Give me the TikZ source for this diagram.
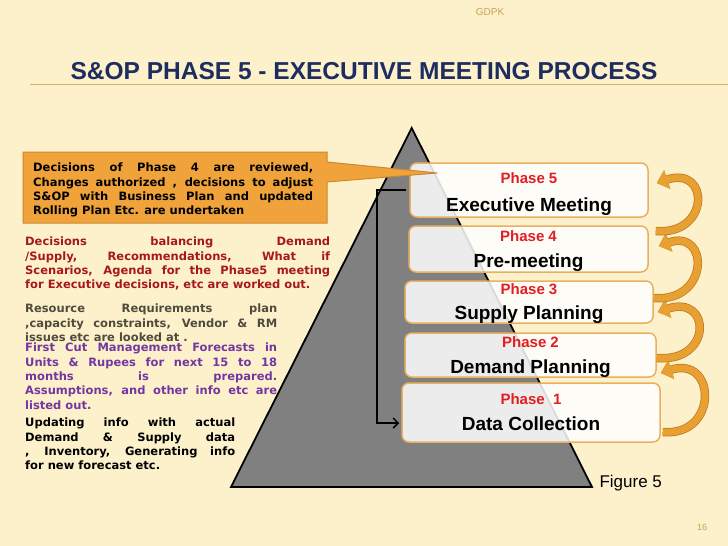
\documentclass[tikz,border=0pt]{standalone}
\usepackage{fontspec}
\setmainfont{Liberation Sans}
\newfontfamily\notefont{DejaVu Sans}
\usetikzlibrary{arrows.meta}
\tolerance=10000
\hyphenpenalty=10000

\definecolor{paper}{RGB}{253,241,204}
\definecolor{titleblue}{RGB}{30,45,95}
\definecolor{tan}{RGB}{200,160,80}
\definecolor{calloutfill}{RGB}{239,163,58}
\definecolor{calloutedge}{RGB}{205,135,45}
\definecolor{boxedge}{RGB}{232,176,96}
\definecolor{flow}{RGB}{232,160,50}
\definecolor{flowdark}{RGB}{190,122,30}
\definecolor{phasered}{RGB}{225,30,35}
\definecolor{notered}{RGB}{165,25,25}
\definecolor{notegray}{RGB}{80,75,60}
\definecolor{notepurple}{RGB}{115,55,160}
\definecolor{pyrgray}{RGB}{128,128,128}

\tikzset{
    phasebox/.style={draw=boxedge, line width=1.5pt, rounded corners=7pt,
        fill=white, fill opacity=0.85, text opacity=1, inner sep=0pt},
    phasetxt/.style={anchor=base, text=phasered, font=\fontsize{15}{18}\selectfont\bfseries},
    nametxt/.style={anchor=base, font=\fontsize{19}{22}\selectfont\bfseries},
    flowarrow/.style={draw=flow, line width=7pt, -{Triangle[length=11pt,width=19pt]},
        preaction={draw=flowdark, line width=8.5pt}},
    notetxt/.style={anchor=north west, inner sep=0pt, align=justify,
        font=\notefont\bfseries\fontsize{11.5}{14.3}\selectfont},
}

\begin{document}
\begin{tikzpicture}[x=1pt,y=-1pt]
    %% slide
    \fill[paper] (0,0) rectangle (728,546);
    \useasboundingbox (0,0) rectangle (728,546);
    \node[text=tan, font=\fontsize{10}{12}\selectfont] (gdpk) at (490,12) {GDPK};
    \node[text=titleblue, font=\fontsize{24.5}{28}\selectfont\bfseries] (title) at (364,71.5)
        {S\&OP PHASE 5 - EXECUTIVE MEETING PROCESS};
    \draw[tan!80, line width=0.8pt] (30,84) -- (728,84);
    %% pyramid
    \draw[fill=pyrgray, line width=1.8pt] (411.7,128) -- (592,487) -- (231,487) -- cycle;
    %% phases
    \node[phasebox, minimum width=238pt, minimum height=54pt] (p5) at (529,190) {};
    \node[phasebox, minimum width=239pt, minimum height=46pt] (p4) at (528.5,249) {};
    \node[phasebox, minimum width=248pt, minimum height=42pt] (p3) at (529,302) {};
    \node[phasebox, minimum width=251pt, minimum height=44pt] (p2) at (530.5,355) {};
    \node[phasebox, minimum width=258pt, minimum height=59pt] (p1) at (531,412.5) {};
    \node[phasetxt] (p5a) at ([yshift=7pt]p5.center) {Phase 5};
    \node[nametxt] (p5b) at ([yshift=-21pt]p5.center) {Executive Meeting};
    \node[phasetxt] (p4a) at ([yshift=8pt]p4.center) {Phase 4};
    \node[nametxt] (p4b) at ([yshift=-18pt]p4.center) {Pre-meeting};
    \node[phasetxt] (p3a) at ([yshift=8pt]p3.center) {Phase 3};
    \node[nametxt] (p3b) at ([yshift=-17pt]p3.center) {Supply Planning};
    \node[phasetxt] (p2a) at ([yshift=8pt]p2.center) {Phase 2};
    \node[nametxt] (p2b) at ([yshift=-18pt]p2.center) {Demand Planning};
    \node[phasetxt] (p1a) at ([yshift=8.5pt]p1.center) {Phase\ \ 1};
    \node[nametxt] (p1b) at ([yshift=-17.5pt]p1.center) {Data Collection};
    %% feedback from phase 5 down to phase 1
    \coordinate (brk) at (377,423);
    \draw[line width=1.5pt, -{Straight Barb[length=5pt,width=10pt]}]
        ([xshift=-3pt]p5.west) -| (brk) -- ([xshift=-2pt,yshift=-10.5pt]p1.west);
    %% arrows up the phases
    \draw[flowarrow] ([xshift=2pt,yshift=-19.5pt]p1.east) .. controls +(56,5) and +(56,-18) .. ([xshift=4pt,yshift=-18pt]p2.east);
    \draw[flowarrow] ([yshift=-3pt]p2.east) .. controls +(56,5) and +(54,-18) .. ([xshift=4pt,yshift=-10pt]p3.east);
    \draw[flowarrow] ([yshift=4pt]p3.east) .. controls +(56,5) and +(51,-18) .. ([xshift=10pt,yshift=3pt]p4.east);
    \draw[flowarrow] ([xshift=7pt,yshift=18pt]p4.east) .. controls +(54,5) and +(54,-18) .. ([xshift=8pt,yshift=7pt]p5.east);
    %% callout
    \draw[fill=calloutfill, draw=calloutedge, line width=1pt]
        (23,152) -- (327,152) -- (327,162) -- (437,173) -- (327,182) -- (327,223) -- (23,223) -- cycle;
    \node[notetxt, text width=280pt] (phase5note) at (33,163)
        {Decisions of Phase 4 are reviewed,\linebreak Changes authorized , decisions to adjust\linebreak
         S\&OP with Business Plan and updated\linebreak Rolling Plan Etc. are undertaken};
    %% notes on the left
    \node[notetxt, text=notered, text width=305pt] (phase4note) at (25,237)
        {Decisions balancing Demand\linebreak /Supply, Recommendations, What if\linebreak
         Scenarios, Agenda for the Phase5 meeting\linebreak for Executive decisions, etc are worked out.};
    \node[notetxt, text=notegray, text width=252pt] (phase3note) at (25,304)
        {Resource Requirements plan\linebreak ,capacity constraints, Vendor \& RM\linebreak issues etc are looked at .};
    \node[notetxt, text=notepurple, text width=252pt] (phase2note) at (25,343)
        {First Cut Management Forecasts in\linebreak Units \& Rupees for next 15 to 18\linebreak
         months is prepared.\linebreak Assumptions, and other info etc are\linebreak listed out.};
    \node[notetxt, text width=210pt] (phase1note) at (25,418)
        {Updating info with actual\linebreak Demand \& Supply data\linebreak
         , Inventory, Generating info\linebreak for new forecast etc.};
    %% footer
    \node[anchor=west, font=\fontsize{17}{20}\selectfont] (figlabel) at (596,483) {Figure 5};
    \node[text=tan, font=\fontsize{9}{11}\selectfont] (pagenum) at (702,527) {16};
\end{tikzpicture}
\end{document}
